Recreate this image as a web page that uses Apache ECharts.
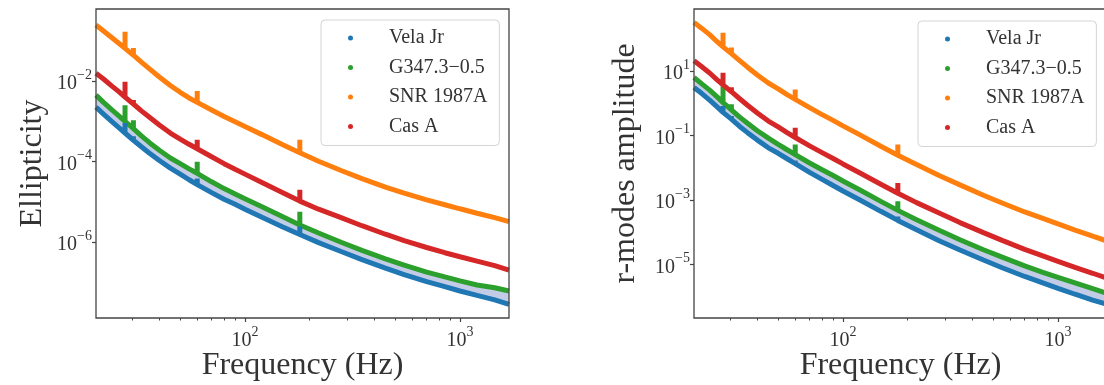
<!DOCTYPE html>
<html>
<head>
<meta charset="utf-8">
<script src="https://cdn.jsdelivr.net/npm/echarts@6/dist/echarts.min.js"></script>
<style>
  html, body { margin: 0; background: #fff; }
  #chart { width: 1104px; height: 385px; }
</style>
</head>
<body>
<div id="chart"></div>
<script>
// frequencies (Hz) shared by every curve
const freqs = [20.3, 22, 24, 26, 27.7, 30.3, 33, 36, 40, 45, 50, 55, 60, 70, 80, 90, 100,
  120, 150, 180, 220, 280, 350, 450, 550, 700, 850, 1000, 1200, 1450, 1690];
// narrow instrumental lines, and the peak value each curve reaches there
const spikeFreqs = [27.7, 30.3, 60, 180];

// left panel: ellipticity upper limits
const ellVelaJr = [2.24e-3, 1.51e-3, 1.00e-3, 6.92e-4, 5.13e-4, 3.39e-4, 2.34e-4, 1.62e-4, 1.07e-4, 6.92e-5,
  4.90e-5, 3.55e-5, 2.69e-5, 1.70e-5, 1.17e-5, 8.71e-6, 6.61e-6, 4.17e-6, 2.40e-6, 1.55e-6, 9.77e-7,
  5.89e-7, 3.72e-7, 2.29e-7, 1.58e-7, 1.05e-7, 7.94e-8, 6.17e-8, 4.79e-8, 3.72e-8, 2.88e-8];
const ellG347 = [4.47e-3, 2.95e-3, 1.95e-3, 1.35e-3, 1.00e-3, 6.61e-4, 4.37e-4, 2.95e-4, 1.91e-4, 1.23e-4,
  8.91e-5, 6.61e-5, 5.13e-5, 3.16e-5, 2.14e-5, 1.58e-5, 1.20e-5, 7.59e-6, 4.27e-6, 2.69e-6, 1.70e-6,
  1.00e-6, 6.31e-7, 3.89e-7, 2.69e-7, 1.82e-7, 1.38e-7, 1.10e-7, 8.71e-8, 7.41e-8, 6.17e-8];
const ellSnr1987A = [2.46e-1, 1.74e-1, 1.20e-1, 8.51e-2, 6.46e-2, 4.37e-2, 2.95e-2, 2.00e-2, 1.26e-2, 7.76e-3,
  5.25e-3, 3.80e-3, 2.95e-3, 1.91e-3, 1.32e-3, 9.77e-4, 7.41e-4, 4.68e-4, 2.63e-4, 1.66e-4, 1.02e-4,
  6.03e-5, 3.80e-5, 2.34e-5, 1.66e-5, 1.12e-5, 8.51e-6, 6.76e-6, 5.25e-6, 4.07e-6, 3.24e-6];
const ellCasA = [1.55e-2, 1.12e-2, 7.59e-3, 5.37e-3, 3.98e-3, 2.69e-3, 1.82e-3, 1.26e-3, 8.13e-4, 5.13e-4,
  3.63e-4, 2.69e-4, 2.09e-4, 1.32e-4, 8.91e-5, 6.46e-5, 4.90e-5, 3.02e-5, 1.70e-5, 1.05e-5, 6.61e-6,
  4.07e-6, 2.57e-6, 1.58e-6, 1.10e-6, 7.41e-7, 5.50e-7, 4.37e-7, 3.39e-7, 2.63e-7, 2.04e-7];
const ellSpikeVelaJr = [9.12e-4, 4.27e-4, 3.80e-5, 2.45e-6];
const ellSpikeG347 = [2.51e-3, 1.07e-3, 1.00e-4, 5.75e-6];
const ellSpikeSnr1987A = [1.66e-1, 6.61e-2, 5.62e-3, 3.47e-4];
const ellSpikeCasA = [9.55e-3, 3.39e-3, 3.47e-4, 2.00e-5];

// right panel: r-modes amplitude upper limits
const rmVelaJr = [3.09, 2.04, 1.26, 0.776, 0.525, 0.324, 0.195, 0.123, 7.24e-2, 4.17e-2, 2.82e-2, 1.91e-2,
  1.35e-2, 7.24e-3, 4.37e-3, 2.82e-3, 1.91e-3, 1.00e-3, 4.47e-4, 2.34e-4, 1.20e-4, 5.50e-5, 2.82e-5,
  1.38e-5, 7.94e-6, 4.27e-6, 2.69e-6, 1.82e-6, 1.20e-6, 7.94e-7, 5.89e-7];
const rmG347 = [6.31, 4.07, 2.57, 1.58, 1.05, 0.631, 0.380, 0.240, 0.141, 8.32e-2, 5.37e-2, 3.63e-2,
  2.57e-2, 1.41e-2, 8.71e-3, 5.75e-3, 3.89e-3, 2.04e-3, 9.12e-4, 4.79e-4, 2.45e-4, 1.15e-4, 5.89e-5,
  2.88e-5, 1.70e-5, 9.12e-6, 5.75e-6, 3.98e-6, 2.69e-6, 1.78e-6, 1.29e-6];
const rmSnr1987A = [324, 214, 135, 81.3, 56.2, 34.7, 21.4, 13.2, 7.59, 4.27, 2.82, 1.86, 1.32, 0.733,
  0.447, 0.295, 0.200, 0.105, 4.68e-2, 2.45e-2, 1.26e-2, 5.75e-3, 2.95e-3, 1.41e-3, 8.13e-4, 4.27e-4,
  2.69e-4, 1.82e-4, 1.17e-4, 7.59e-5, 5.37e-5];
const rmCasA = [20.9, 13.8, 8.71, 5.37, 3.72, 2.29, 1.41, 0.871, 0.501, 0.282, 0.186, 0.123, 8.71e-2,
  4.79e-2, 2.95e-2, 1.95e-2, 1.32e-2, 6.92e-3, 3.09e-3, 1.62e-3, 8.32e-4, 3.98e-4, 2.00e-4, 9.77e-5,
  5.62e-5, 2.95e-5, 1.86e-5, 1.26e-5, 8.13e-6, 5.37e-6, 3.80e-6];
const rmSpikeVelaJr = [0.832, 0.407, 1.70e-2, 3.09e-4];
const rmSpikeG347 = [3.39, 0.933, 5.25e-2, 9.12e-4];
const rmSpikeSnr1987A = [155, 53.7, 2.69, 5.25e-2];
const rmSpikeCasA = [8.91, 3.16, 0.174, 3.39e-3];

// axis ticks
const xMajorTicks = [100, 1000];
const xMinorTicks = [30, 40, 50, 60, 70, 80, 90, 200, 300, 400, 500, 600, 700, 800, 900];
const ellTicks = [1e-2, 1e-4, 1e-6];
const rmTicks = [1e1, 1e-1, 1e-3, 1e-5];

const names = ["Vela Jr", "G347.3\u22120.5", "SNR 1987A", "Cas A"];
const colors = ["#1f77b4", "#2ca02c", "#ff7f0e", "#d62728"];
const serif = "'Liberation Serif', 'DejaVu Serif', serif";
const ink = "#333";
const spine = "#444";

function withSpikes(vals, tops) {
  const out = [];
  freqs.forEach((f, i) => {
    out.push([f, vals[i]]);
    const k = spikeFreqs.indexOf(f);
    if (k >= 0) {
      out.push([f, tops[k]]);
      out.push([f, vals[i]]);
    }
  });
  return out;
}

function powerLabel(value) {
  const exp = Math.round(Math.log10(value));
  return "{b|10}{s|" + String(exp).replace("-", "\u2212") + "}";
}

const labelRich = {
  b: { fontFamily: serif, fontSize: 20, color: ink, lineHeight: 26, verticalAlign: "bottom" },
  s: { fontFamily: serif, fontSize: 14, color: ink, lineHeight: 14, verticalAlign: "top" },
};

const grids = [
  { left: 96, top: 9, width: 413, height: 309 },
  { left: 694, top: 9, width: 413, height: 309 },
];

function xAxes(gridIndex) {
  return [
    {
      type: "log", gridIndex, position: "bottom", min: 20.3, max: 1690, z: 10,
      name: "Frequency (Hz)", nameLocation: "middle", nameGap: 32, nameMoveOverlap: false,
      nameTextStyle: { fontFamily: serif, fontSize: 32, color: ink },
      axisLine: { show: false },
      splitLine: { show: false },
      axisTick: { show: true, length: 4, customValues: xMajorTicks, lineStyle: { color: spine, width: 1.2 } },
      axisLabel: { customValues: xMajorTicks, formatter: powerLabel, rich: labelRich, margin: 7 },
    },
    {
      type: "log", gridIndex, position: "bottom", min: 20.3, max: 1690, z: 10,
      axisLine: { show: false },
      splitLine: { show: false },
      axisLabel: { show: false },
      axisTick: { show: true, length: 2.5, customValues: xMinorTicks, lineStyle: { color: spine, width: 1 } },
    },
  ];
}

function yAxis(gridIndex, min, max, ticks, name, nameGap) {
  return {
    type: "log", gridIndex, min, max, z: 10,
    name, nameLocation: "middle", nameGap, nameMoveOverlap: false,
    nameTextStyle: { fontFamily: serif, fontSize: 32, color: ink },
    axisLine: { show: false },
    splitLine: { show: false },
    axisTick: { show: true, length: 4, customValues: ticks, lineStyle: { color: spine, width: 1.2 } },
    axisLabel: { customValues: ticks, formatter: powerLabel, rich: labelRich, margin: 4 },
  };
}

function curve(panel, idx, vals, tops) {
  const s = {
    name: names[idx], type: "line",
    xAxisIndex: panel * 2, yAxisIndex: panel,
    data: withSpikes(vals, tops),
    symbol: "none", silent: true,
    lineStyle: { color: colors[idx], width: 5 },
    itemStyle: { color: colors[idx] },
    z: idx === 1 ? 1 : idx === 0 ? 2 : 3,
  };
  // light band between Vela Jr and G347.3-0.5
  if (idx === 1) s.areaStyle = { color: "#c3cce6", opacity: 1, origin: "start" };
  if (idx === 0) s.areaStyle = { color: "#ffffff", opacity: 1, origin: "start" };
  return s;
}

function legend(left, top) {
  return {
    orient: "vertical", left, top,
    data: names, icon: "circle", itemWidth: 5, itemHeight: 5, itemGap: 7.5,
    padding: [7, 12, 8, 27],
    backgroundColor: "rgba(255,255,255,0.85)",
    borderColor: "#d4d4d4", borderWidth: 1, borderRadius: 4,
    textStyle: { fontFamily: serif, fontSize: 20, color: ink, lineHeight: 22, padding: [0, 0, 0, 31] },
  };
}

const chart = echarts.init(document.getElementById("chart"));
chart.setOption({
  animation: false,
  backgroundColor: "#fff",
  grid: grids.map((g) => ({
    ...g, show: true, z: 10, outerBoundsMode: "none", containLabel: false,
    borderColor: spine, borderWidth: 1.3, backgroundColor: "transparent",
  })),
  legend: [legend(321, 20), legend(918, 21)],
  xAxis: [...xAxes(0), ...xAxes(1)],
  yAxis: [
    yAxis(0, 1.32e-8, 0.612, ellTicks, "Ellipticity", 47),
    yAxis(1, 2.2e-7, 841, rmTicks, "r-modes amplitude", 52),
  ],
  series: [
    curve(0, 0, ellVelaJr, ellSpikeVelaJr),
    curve(0, 1, ellG347, ellSpikeG347),
    curve(0, 2, ellSnr1987A, ellSpikeSnr1987A),
    curve(0, 3, ellCasA, ellSpikeCasA),
    curve(1, 0, rmVelaJr, rmSpikeVelaJr),
    curve(1, 1, rmG347, rmSpikeG347),
    curve(1, 2, rmSnr1987A, rmSpikeSnr1987A),
    curve(1, 3, rmCasA, rmSpikeCasA),
  ],
});
</script>
</body>
</html>
